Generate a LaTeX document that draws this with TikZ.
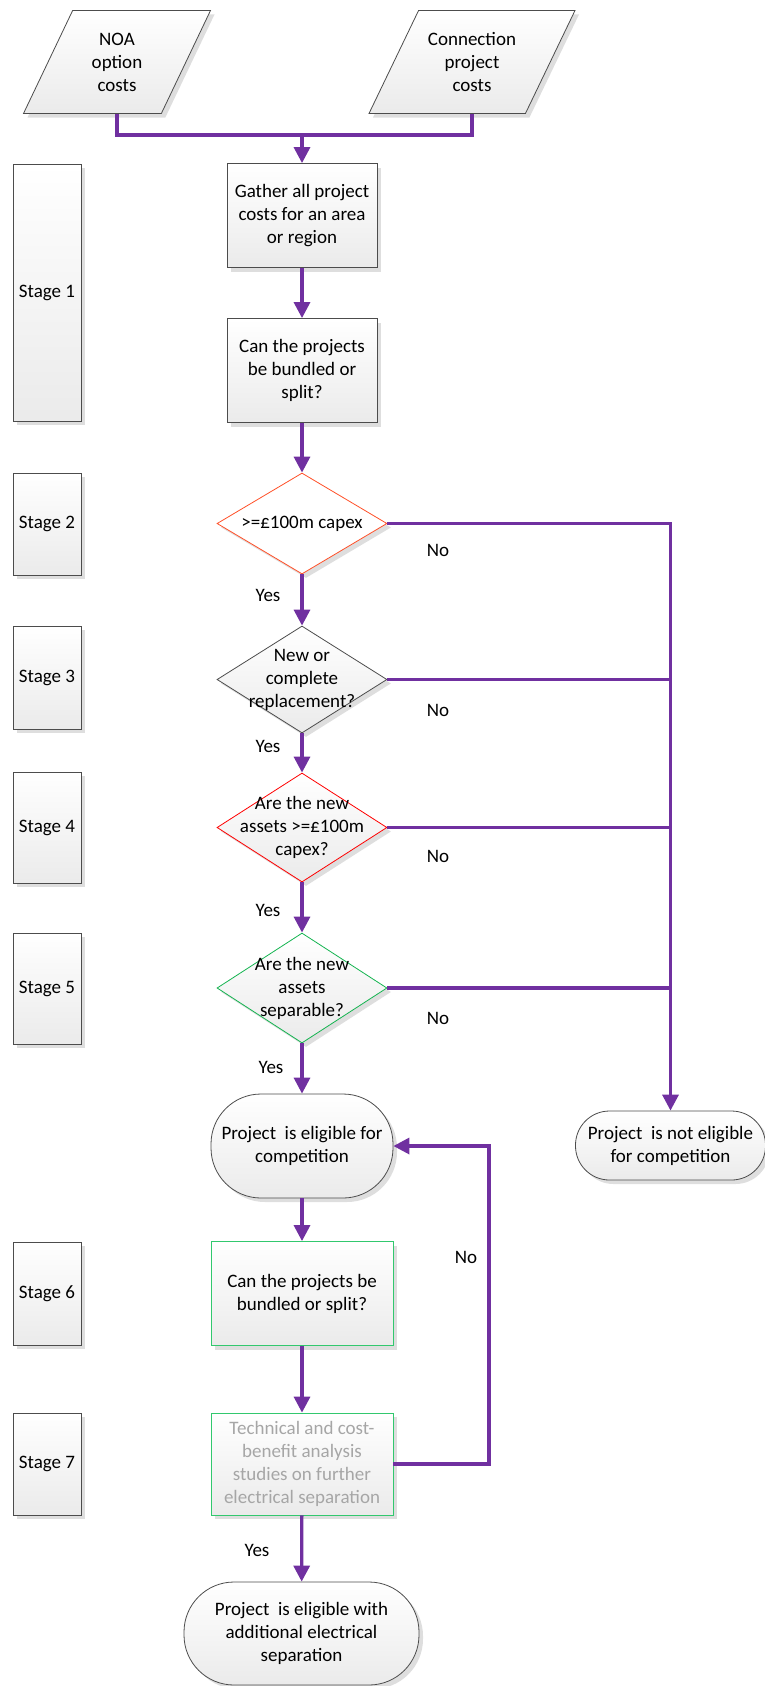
\documentclass[tikz,border=0pt]{standalone}
\usepackage{fontspec}
\setmainfont{Carlito}
\usetikzlibrary{shapes.geometric,arrows.meta,shadows}
\definecolor{flowpurple}{RGB}{112,48,160}
\definecolor{capexred}{RGB}{255,80,40}
\definecolor{sepgreen}{RGB}{20,180,80}
\definecolor{boxgreen}{RGB}{50,200,110}
\definecolor{greytext}{RGB}{166,166,166}

\begin{document}
\begin{tikzpicture}[x=1pt,y=-1pt,
  every node/.style={font=\fontsize{19}{23}\selectfont},
  boxfill/.style={top color=white,bottom color=black!8,draw=black!70,line width=0.8pt,
    drop shadow={shadow xshift=4pt,shadow yshift=-4pt,fill=black!13,opacity=1}},
  stagebox/.style={boxfill,rectangle,minimum width=68pt,inner sep=0pt},
  procbox/.style={boxfill,rectangle,minimum width=150pt,minimum height=104pt,align=center,inner sep=2pt},
  datain/.style={boxfill,trapezium,trapezium left angle=63,trapezium right angle=117,
    trapezium stretches body,minimum width=187pt,minimum height=103pt,align=center,
    inner xsep=1pt,inner ysep=19pt},
  decision/.style={boxfill,diamond,minimum width=170pt,inner sep=0pt},
  terminal/.style={boxfill,rectangle,rounded corners=#1,align=center,inner sep=0pt},
  flow/.style={draw=flowpurple,line width=3.3pt},
  flowto/.style={flow,-{Triangle[width=16pt,length=16pt]}}]
\useasboundingbox (0,0) rectangle (765,1686);

\node[datain] (noa) at (117,62) {NOA\\option\\costs};
\node[datain,minimum width=206pt] (conn) at (472,62) {Connection\\project\\costs};
\coordinate (join) at (302,135);
\node[procbox] (gather) at (302,215.5) {Gather all project\\costs for an area\\or region};
\node[procbox] (split1) at (302,370.5) {Can the projects\\be bundled or\\split?};

\node[decision,draw=capexred,top color=white,bottom color=white,minimum height=101pt,
  label={center:>=£100m capex}] (capex) at (302,523.5) {};
\node[decision,minimum height=107pt,
  label={[align=center]center:New or\\complete\\replacement?}] (newrep) at (302,679.5) {};
\node[decision,draw=red,minimum height=109pt,
  label={[align=center]center:Are the new\\assets >=£100m\\capex?}] (assets) at (302,827.5) {};
\node[decision,draw=sepgreen,minimum height=110pt,
  label={[align=center]center:Are the new\\assets\\separable?}] (sep) at (302,988) {};

\node[terminal=50pt,minimum width=182pt,minimum height=104pt] (elig) at (302,1146) {Project\ \ is eligible for\\competition};
\node[terminal=34pt,minimum width=190pt,minimum height=69pt] (noelig) at (670.5,1145.5) {Project\ \ is not eligible\\for competition};
\node[procbox,draw=boxgreen,minimum width=182pt] (split2) at (302,1293.5) {Can the projects be\\bundled or split?};
\node[procbox,draw=boxgreen,minimum width=182pt,minimum height=102pt,text=greytext] (tech) at (302,1464)
  {Technical and cost-\\benefit analysis\\studies on further\\electrical separation};
\node[terminal=50pt,minimum width=235pt,minimum height=103pt] (final) at (301.5,1633.5) {Project\ \ is eligible with\\additional electrical\\separation};

\node[stagebox,minimum height=257pt] (s1) at (47,292.5) {Stage 1};
\node[stagebox,minimum height=102pt] (s2) at (47,524) {Stage 2};
\node[stagebox,minimum height=103pt] (s3) at (47,677.5) {Stage 3};
\node[stagebox,minimum height=111pt] (s4) at (47,827.5) {Stage 4};
\node[stagebox,minimum height=111pt] (s5) at (47,988.5) {Stage 5};
\node[stagebox,minimum height=103pt] (s6) at (47,1293.5) {Stage 6};
\node[stagebox,minimum height=102pt] (s7) at (47,1464) {Stage 7};

\node (no1) at (438,550) {No};
\node (no2) at (438,710) {No};
\node (no3) at (438,856) {No};
\node (no4) at (438,1018) {No};
\node (no5) at (466,1257) {No};
\node (yes1) at (268,595) {Yes};
\node (yes2) at (268,746) {Yes};
\node (yes3) at (268,910) {Yes};
\node (yes4) at (271,1067) {Yes};
\node (yes5) at (257,1550) {Yes};

\draw[flow] (noa.south) |- (join) -| (conn.south);
\draw[flowto] (join) -- (gather);
\draw[flowto] (gather) -- (split1);
\draw[flowto] (split1) -- (capex);
\draw[flowto] (capex) -- (newrep);
\draw[flowto] (newrep) -- (assets);
\draw[flowto] (assets) -- (sep);
\draw[flowto] (sep) -- (elig);
\draw[flowto] (capex.east) -| (noelig.north);
\draw[flow] (newrep.east) -- (newrep.east -| noelig.north);
\draw[flow] (assets.east) -- (assets.east -| noelig.north);
\draw[flow] (sep.east) -- (sep.east -| noelig.north);
\draw[flowto] (elig) -- (split2);
\draw[flowto] (split2) -- (tech);
\draw[flowto] (tech) -- (final);
\coordinate (loop) at (489,1146);
\draw[flowto] (tech.east) -| (loop) -- (elig.east);
\end{tikzpicture}
\end{document}
